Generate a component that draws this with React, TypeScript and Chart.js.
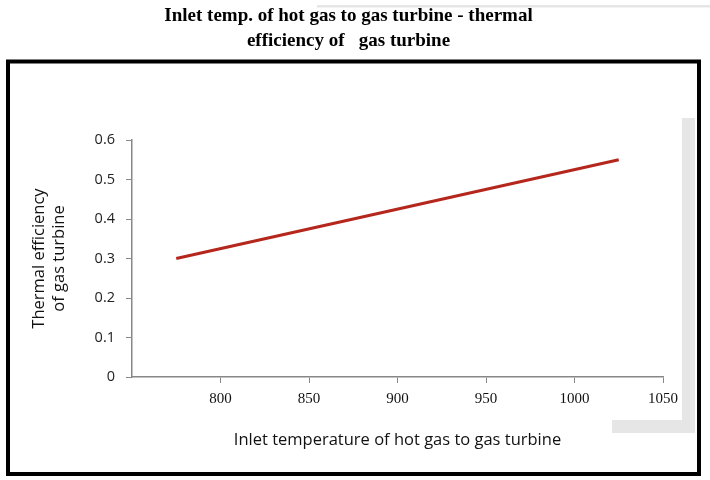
import React, { useEffect, useRef } from "react";
import { Chart, registerables } from "chart.js";

Chart.register(...registerables);

// values
const inletTemp = [775, 1025];
const thermalEff = [0.3, 0.55];
const xTicks = [800, 850, 900, 950, 1000, 1050];
const titleLines = ["Inlet temp. of hot gas to gas turbine - thermal", "efficiency of   gas turbine"];
const xTitle = "Inlet temperature of hot gas to gas turbine";
const yTitle = ["Thermal efficiency", "of gas turbine"];

// frame + gray shadow strips around the plot
const framePlugin = {
  id: "framePlugin",
  beforeDraw(chart: any) {
    const { ctx } = chart;
    ctx.save();
    ctx.fillStyle = "#e6e6e6";
    ctx.fillRect(317, 5, 393, 2.5);
    ctx.fillRect(682, 118, 13, 315);
    ctx.fillRect(612, 420, 83, 13);
    ctx.strokeStyle = "#000";
    ctx.lineWidth = 4;
    ctx.strokeRect(8, 61.5, 691, 412.5);
    ctx.restore();
  },
};

const App: React.FC = () => {
  const canvasRef = useRef<HTMLCanvasElement | null>(null);
  const chartRef = useRef<Chart | null>(null);

  useEffect(() => {
    if (!canvasRef.current) return;
    if (chartRef.current) chartRef.current.destroy();

    const axisGray = "#888888";

    chartRef.current = new Chart(canvasRef.current, {
      type: "scatter",
      data: {
        datasets: [
          {
            data: inletTemp.map((t, i) => ({ x: t, y: thermalEff[i] })),
            showLine: true,
            borderColor: "#b5261c",
            borderWidth: 3,
            pointRadius: 0,
            pointHoverRadius: 0,
          },
        ],
      },
      options: {
        responsive: true,
        maintainAspectRatio: false,
        animation: false,
        layout: { padding: { left: 34, right: 47, top: 0, bottom: 0 } },
        plugins: {
          legend: { display: false },
          tooltip: { enabled: false },
          title: {
            display: true,
            text: titleLines,
            color: "#000",
            font: { family: "'Liberation Serif', serif", size: 19, weight: "bold", lineHeight: 25 / 19 },
            padding: { top: 4, bottom: 86 },
          },
        },
        scales: {
          x: {
            type: "linear",
            min: 750,
            max: 1050,
            afterFit: (scale: any) => {
              scale.height = 103;
            },
            afterBuildTicks: (scale: any) => {
              scale.ticks = [750, ...xTicks].map((v) => ({ value: v }));
            },
            border: { display: true, color: axisGray, width: 1.5 },
            grid: {
              drawOnChartArea: false,
              drawTicks: true,
              tickLength: 6,
              color: (c: any) => (c.tick && c.tick.value === 750 ? "rgba(0,0,0,0)" : axisGray),
            },
            ticks: {
              padding: 7,
              color: "#111",
              font: { family: "'Liberation Serif', serif", size: 15 },
              callback: (v: any) => (xTicks.includes(Number(v)) ? String(v) : ""),
            },
            title: {
              display: true,
              text: xTitle,
              color: "#111",
              font: { family: "'Open Sans', sans-serif", size: 16.5, lineHeight: 1.2 },
              padding: { top: 0, bottom: 30 },
            },
          },
          y: {
            min: 0,
            max: 0.6,
            afterFit: (scale: any) => {
              scale.width = 98;
            },
            border: { display: true, color: axisGray, width: 1.5 },
            grid: { drawOnChartArea: false, drawTicks: true, tickLength: 6, color: axisGray },
            ticks: {
              stepSize: 0.1,
              padding: 11,
              color: "#222",
              font: { family: "'Open Sans', sans-serif", size: 14.5 },
            },
            title: {
              display: true,
              text: yTitle,
              color: "#111",
              font: { family: "'Open Sans', sans-serif", size: 16.5, lineHeight: 20 / 16.5 },
              padding: { top: -5, bottom: 0 },
            },
          },
        },
      },
      plugins: [framePlugin],
    });

    return () => {
      if (chartRef.current) {
        chartRef.current.destroy();
        chartRef.current = null;
      }
    };
  }, []);

  return (
    <div style={{ position: "absolute", left: 0, top: 0, width: 710, height: 480, background: "#fff" }}>
      <canvas ref={canvasRef}></canvas>
    </div>
  );
};

export default App;
